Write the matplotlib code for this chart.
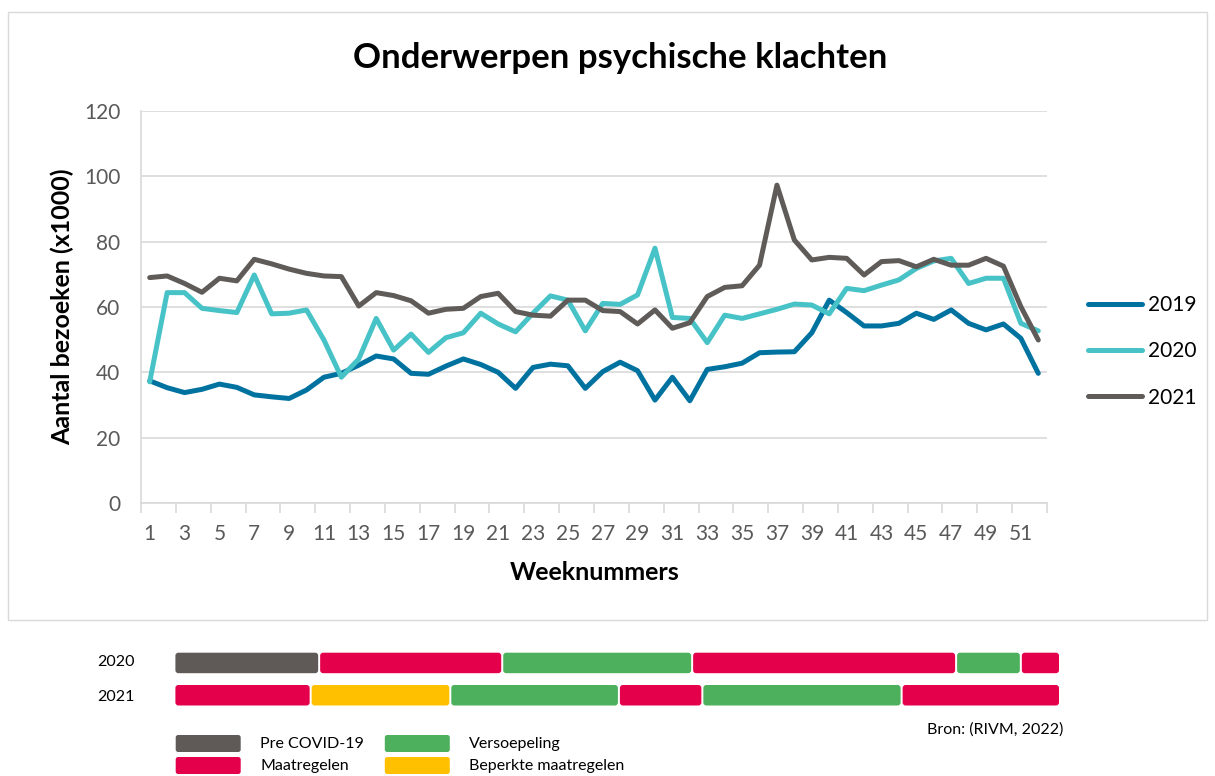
import numpy as np
import matplotlib.pyplot as plt
from matplotlib.patches import Rectangle, FancyBboxPatch

plt.rcParams['font.family'] = ['Lato', 'DejaVu Sans']

# --- data ---
weken = np.arange(1, 53)
bezoeken_2019 = [37.4, 35.3, 33.8, 34.8, 36.4, 35.4, 33.1, 32.5, 32.0, 34.6,
                 38.5, 39.7, 42.2, 45.0, 44.1, 39.7, 39.4, 41.9, 44.1, 42.4,
                 40.0, 35.1, 41.5, 42.5, 42.0, 35.1, 40.2, 43.1, 40.5, 31.5,
                 38.5, 31.3, 40.9, 41.7, 42.8, 46.0, 46.2, 46.3, 52.1, 62.1,
                 58.3, 54.2, 54.2, 55.0, 58.1, 56.2, 59.1, 55.0, 53.0, 54.8,
                 50.4, 39.7]
bezoeken_2020 = [37.1, 64.4, 64.4, 59.6, 58.9, 58.3, 69.8, 57.9, 58.1, 59.1,
                 49.9, 38.5, 44.1, 56.5, 46.8, 51.7, 46.1, 50.6, 52.1, 58.1,
                 54.8, 52.4, 58.1, 63.4, 62.1, 52.7, 61.1, 60.8, 63.7, 78.0,
                 56.8, 56.5, 49.1, 57.5, 56.5, 57.9, 59.3, 60.9, 60.6, 57.9,
                 65.7, 65.0, 66.7, 68.3, 71.8, 74.1, 74.9, 67.2, 68.8, 68.8,
                 55.0, 52.7]
bezoeken_2021 = [69.0, 69.5, 67.2, 64.5, 68.8, 68.0, 74.6, 73.2, 71.6, 70.3,
                 69.5, 69.3, 60.3, 64.4, 63.5, 61.9, 58.1, 59.3, 59.6, 63.2,
                 64.2, 58.6, 57.5, 57.2, 62.1, 62.1, 58.9, 58.6, 54.8, 59.1,
                 53.5, 55.2, 63.2, 66.0, 66.5, 72.8, 97.3, 80.5, 74.4, 75.2,
                 74.9, 69.8, 73.9, 74.2, 72.3, 74.6, 72.8, 72.8, 74.9, 72.5,
                 60.1, 49.9]

# tijdlijn maatregelen (grenzen in weken)
grens_2020 = [0, 8.5, 19.25, 30.4, 45.9, 49.7, 52]
fase_2020 = ['Pre COVID-19', 'Maatregelen', 'Versoepeling', 'Maatregelen',
             'Versoepeling', 'Maatregelen']
grens_2021 = [0, 8.0, 16.2, 26.1, 31.0, 42.7, 52]
fase_2021 = ['Maatregelen', 'Beperkte maatregelen', 'Versoepeling',
             'Maatregelen', 'Versoepeling', 'Maatregelen']

kleur_fase = {'Pre COVID-19': '#5f5a57', 'Maatregelen': '#e4004b',
              'Versoepeling': '#4cb05c', 'Beperkte maatregelen': '#ffc000'}

W, H = 1215, 776
fig = plt.figure(figsize=(W / 100, H / 100), dpi=100)

# --- hoofdgrafiek ---
ax = fig.add_axes([141 / W, 1 - 503 / H, 906 / W, 392 / H])
lijn = dict(lw=3.6, solid_joinstyle='round', solid_capstyle='round')
ax.plot(weken, bezoeken_2019, color='#0072a0', label='2019', **lijn)
ax.plot(weken, bezoeken_2020, color='#47c2c6', label='2020', **lijn)
ax.plot(weken, bezoeken_2021, color='#5f5b58', label='2021', **lijn)

ax.set_xlim(0.5, 52.5)
ax.set_ylim(0, 120)
ax.set_yticks(range(0, 121, 20))
ax.set_xticks(weken[::2])
ax.set_xticks(np.arange(0.5, 53, 2), minor=True)
ax.tick_params(axis='both', which='major', length=0, labelsize=15, labelcolor='#595959')
ax.tick_params(axis='y', pad=15)
ax.tick_params(axis='x', pad=15)
ax.tick_params(axis='x', which='minor', length=7, width=1.2, color='#d9d9d9')
ax.yaxis.grid(True, color='#d9d9d9', lw=1.2)
ax.set_axisbelow(True)
for s in ['top', 'right']:
    ax.spines[s].set_visible(False)
for s in ['left', 'bottom']:
    ax.spines[s].set_color('#d9d9d9')
    ax.spines[s].set_linewidth(1.2)

fig.text(620 / W, 1 - 58 / H, 'Onderwerpen psychische klachten', ha='center', va='center',
         fontsize=25, fontweight='bold')
fig.text(62 / W, 1 - 307 / H, 'Aantal bezoeken (x1000)', ha='center', va='center',
         rotation=90, fontsize=18, fontweight='bold')
fig.text(595 / W, 1 - 573 / H, 'Weeknummers', ha='center', va='center',
         fontsize=18, fontweight='bold')

fig.legend(loc='center left', bbox_to_anchor=(1088 / W, 1 - 351.5 / H), frameon=False,
           fontsize=15, handlelength=2.6, handletextpad=0.3, labelspacing=1.25,
           borderpad=0, borderaxespad=0)

# --- tijdlijn ---
tl = fig.add_axes([174.4 / W, 1 - 706 / H, 885.6 / W, 54 / H])
tl.set_xlim(0, 52)
tl.set_ylim(54, 0)
tl.axis('off')
px = 52 / 885.6  # weken per pixel
for grens, fase, y0 in [(grens_2020, fase_2020, 0.7), (grens_2021, fase_2021, 33)]:
    for i, f in enumerate(fase):
        tl.add_patch(FancyBboxPatch((grens[i] + px, y0), grens[i + 1] - grens[i] - 2 * px, 20.5,
                                    boxstyle='round,pad=0,rounding_size=%.3f' % (3 * px),
                                    mutation_aspect=1 / px, color=kleur_fase[f], lw=0))

# --- overlay: kader, labels, legenda ---
ov = fig.add_axes([0, 0, 1, 1])
ov.set_xlim(0, W)
ov.set_ylim(H, 0)
ov.axis('off')
ov.add_patch(Rectangle((8, 12), 1199, 608, fill=False, edgecolor='#d9d9d9', lw=1))
ov.text(116, 662, '2020', ha='center', va='center', fontsize=11.5)
ov.text(116, 697, '2021', ha='center', va='center', fontsize=11.5)
ov.text(1063, 730, 'Bron: (RIVM, 2022)', ha='right', va='center', fontsize=11.5)
legenda = [('Pre COVID-19', 175.7, 735), ('Maatregelen', 175.7, 757),
           ('Versoepeling', 384.8, 735), ('Beperkte maatregelen', 384.8, 757)]
for naam, lx, ly in legenda:
    ov.add_patch(FancyBboxPatch((lx, ly), 65, 17, boxstyle='round,pad=0,rounding_size=2.5',
                                color=kleur_fase[naam], lw=0))
    ov.text(lx + 84.5, ly + 9, naam, ha='left', va='center', fontsize=11.5)

fig.savefig('out.png', dpi=100)
